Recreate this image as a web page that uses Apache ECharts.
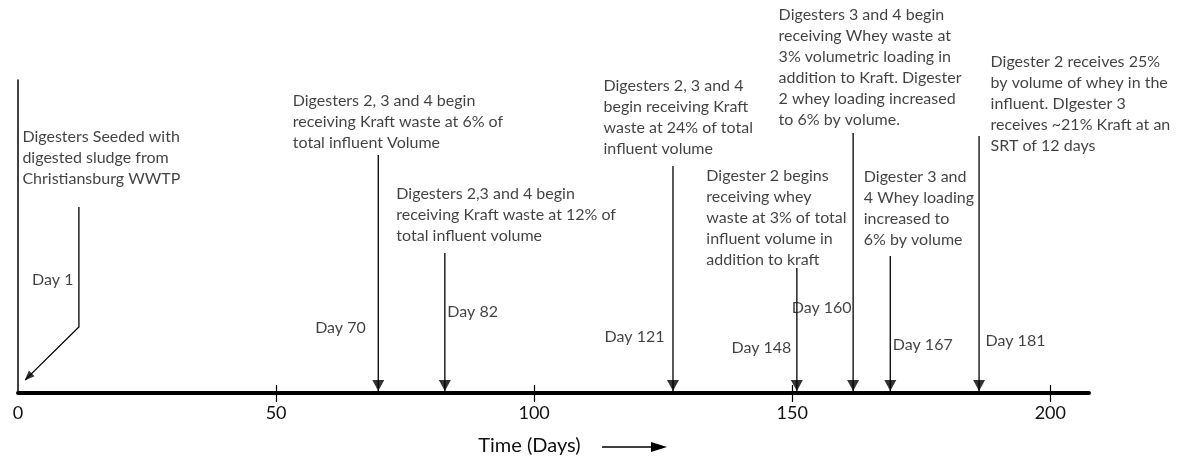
<!DOCTYPE html>
<html>
<head>
<meta charset="utf-8">
<title>Digester timeline</title>
<script src="https://cdn.jsdelivr.net/npm/echarts@6/dist/echarts.min.js"></script>
<style>
  html, body { margin: 0; padding: 0; background: #fff; }
  #chart { width: 1186px; height: 462px; }
</style>
</head>
<body>
<div id="chart"></div>
<script>
// tick labels on the time axis
const dayTicks = [0, 50, 100, 150, 200];

// day of each event, as written next to its arrow
const eventDays = [1, 70, 82, 121, 148, 160, 167, 181];

// where each arrow stem sits on the (hand drawn) time axis, in days
const stemAt = [11.8, 69.8, 82.7, 126.9, 150.9, 161.8, 169.0, 186.2];
// top and bottom of each stem, 0-100 of the plot height
const stemTop = [59.4, 76.0, 44.7, 72.5, 39.9, 83.1, 43.8, 82.1];
const stemBottom = [21.1, 0, 0, 0, 0, 0, 0, 0];
// the Day 1 arrow bends over and points at the origin
const seedTip = [1.4, 4.2];

const notes = [
  'Digesters Seeded with\ndigested sludge from\nChristiansburg WWTP',
  'Digesters 2, 3 and 4 begin\nreceiving Kraft waste at 6% of\ntotal influent Volume',
  'Digesters 2,3 and 4 begin\nreceiving Kraft waste at 12% of\ntotal influent volume',
  'Digesters 2, 3 and 4\nbegin receiving Kraft\nwaste at 24% of total\ninfluent volume',
  'Digester 2 begins\nreceiving whey\nwaste at 3% of total\ninfluent volume in\naddition to kraft',
  'Digesters 3 and 4 begin\nreceiving Whey waste at\n3% volumetric loading in\naddition to Kraft. Digester\n2 whey loading increased\nto 6% by volume.',
  'Digester 3 and\n4 Whey loading\nincreased to\n6% by volume',
  'Digester 2 receives 25%\nby volume of whey in the\ninfluent. DIgester 3\nreceives ~21% Kraft at an\nSRT of 12 days'
];

const FONT = 'Lato';
const INK = '#111';

// label placement, px from the stem top (notes) and from the axis (day tags)
const noteOffset = [[-56, -80], [-85, -64], [-48, -69], [-69, -90], [-90, -102], [-74, -128], [-26, -89], [12, -84]];
const dayOffset = [[-5, -113, 'right'], [-12, -65, 'right'], [3, -81, 'left'], [-8, -56, 'right'],
                   [-5, -45, 'right'], [-1, -85, 'right'], [3, -48, 'left'], [7, -52, 'left']];

const chart = echarts.init(document.getElementById('chart'));

// arrow stems
const stems = stemAt.map((x, i) => {
  const coords = [[x, stemTop[i]], [x, stemBottom[i]]];
  if (i === 0) coords.push(seedTip);
  return { coords };
});

// arrow heads
const heads = stemAt.map((x, i) => {
  if (i === 0) {
    return { value: seedTip, symbolSize: [8, 10], symbolRotate: 135, symbolOffset: [3, -3] };
  }
  return { value: [x, 0], symbolSize: [12, 11], symbolRotate: 180, symbolOffset: [0, -7.5] };
});

const noteItems = stemAt.map((x, i) => ({
  value: [x, stemTop[i]],
  name: notes[i],
  label: { position: noteOffset[i] }
}));

const dayItems = stemAt.map((x, i) => ({
  value: [x, 0],
  name: 'Day ' + eventDays[i],
  label: { position: [dayOffset[i][0], dayOffset[i][1]], align: dayOffset[i][2] }
}));

const option = {
  animation: false,
  textStyle: { fontFamily: FONT },
  grid: { left: 18, right: 97, top: 80, bottom: 69 },
  xAxis: [
    {
      type: 'value',
      min: 0,
      max: 207.5,
      interval: 50,
      name: 'Time (Days)',
      nameLocation: 'middle',
      nameGap: 43,
      nameTextStyle: { fontSize: 20, color: INK, fontFamily: FONT, padding: [0, 48, 0, 0] },
      axisLine: { lineStyle: { color: '#000', width: 4 } },
      axisTick: { show: true, inside: true, length: 8, customValues: dayTicks.slice(1), lineStyle: { color: '#000', width: 1.2 } },
      axisLabel: { customValues: dayTicks, fontSize: 18, color: INK, margin: 11, fontFamily: FONT, hideOverlap: false },
      splitLine: { show: false }
    },
    {
      // lower half of the tick marks, they cross the axis line
      type: 'value',
      min: 0,
      max: 207.5,
      interval: 50,
      position: 'bottom',
      axisLine: { show: false },
      axisTick: { show: true, inside: false, length: 9, customValues: dayTicks.slice(1), lineStyle: { color: '#000', width: 1.2 } },
      axisLabel: { show: false },
      splitLine: { show: false }
    }
  ],
  yAxis: {
    type: 'value',
    min: 0,
    max: 100,
    axisLine: { show: true, lineStyle: { color: '#000', width: 1.5 } },
    axisTick: { show: false },
    axisLabel: { show: false },
    splitLine: { show: false }
  },
  graphic: [
    { type: 'line', shape: { x1: 602, y1: 447, x2: 656, y2: 447 }, style: { stroke: '#000', lineWidth: 1.3 } },
    { type: 'polygon', shape: { points: [[651, 442], [667, 447], [651, 452]] }, style: { fill: '#000' } }
  ],
  series: [
    {
      type: 'lines',
      coordinateSystem: 'cartesian2d',
      polyline: true,
      silent: true,
      lineStyle: { color: '#000', width: 1.3, opacity: 1 },
      data: stems
    },
    {
      type: 'scatter',
      symbol: 'triangle',
      silent: true,
      itemStyle: { color: '#000' },
      data: heads
    },
    {
      type: 'scatter',
      symbolSize: 1,
      silent: true,
      itemStyle: { color: 'rgba(0,0,0,0)' },
      label: {
        show: true,
        formatter: p => p.name,
        fontSize: 16,
        lineHeight: 21,
        color: INK,
        fontFamily: FONT,
        align: 'left',
        verticalAlign: 'top'
      },
      data: noteItems
    },
    {
      type: 'scatter',
      symbolSize: 1,
      silent: true,
      itemStyle: { color: 'rgba(0,0,0,0)' },
      label: {
        show: true,
        formatter: p => p.name,
        fontSize: 16,
        color: INK,
        fontFamily: FONT,
        verticalAlign: 'middle'
      },
      data: dayItems
    }
  ]
};

chart.setOption(option);
window.addEventListener('resize', () => chart.resize());
</script>
</body>
</html>
